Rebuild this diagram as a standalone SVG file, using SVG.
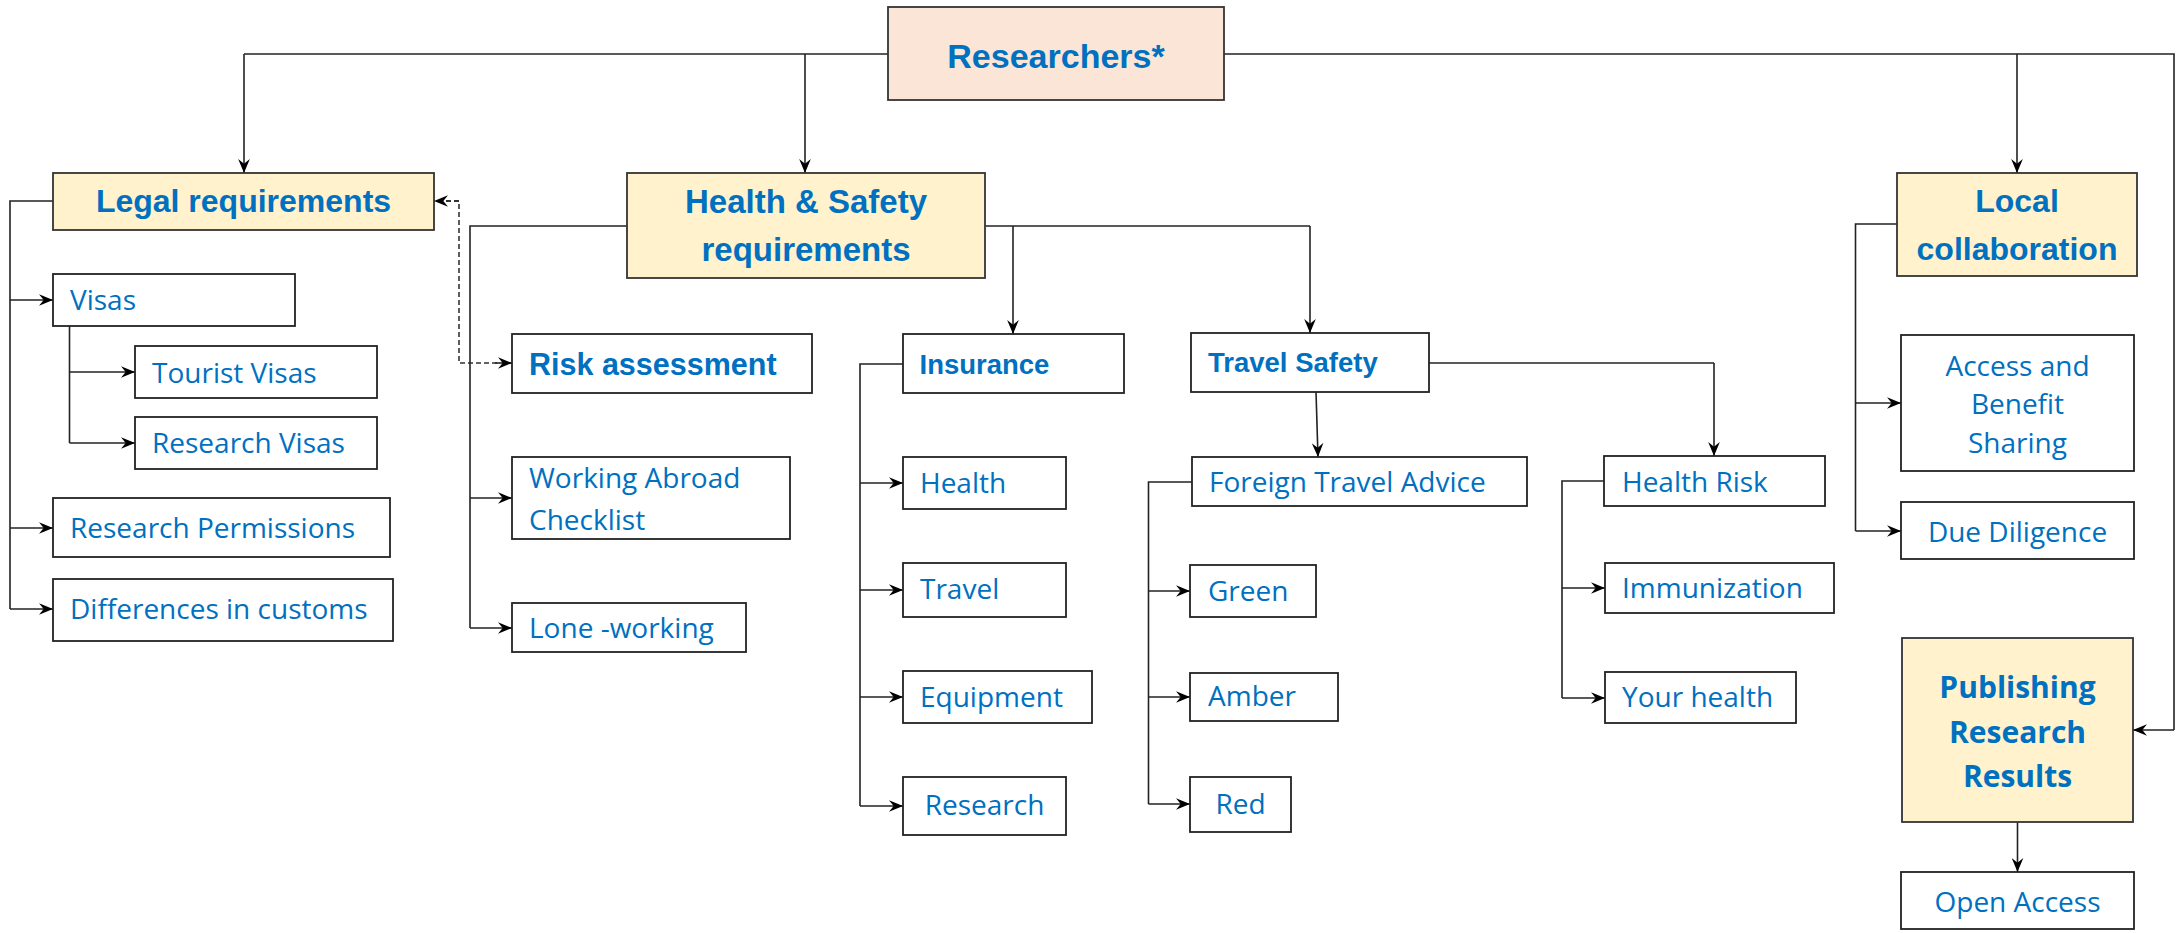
<svg xmlns="http://www.w3.org/2000/svg" width="2179" height="933" viewBox="0 0 2179 933">
<defs>
<marker id="arr" viewBox="0 0 12 10" refX="12" refY="5" markerWidth="14" markerHeight="12" markerUnits="userSpaceOnUse" orient="auto">
<path d="M0,0 L12,5 L0,10 L4,5 z" fill="#000"/>
</marker>
<style>
.box{fill:#fff;stroke:#222;stroke-width:1.8}
.hdr{fill:#FFF2CC;stroke:#333;stroke-width:1.8}
.root{fill:#FBE5D6;stroke:#333;stroke-width:1.8}
.c{fill:none;stroke:#222;stroke-width:1.6}
.ca{fill:none;stroke:#222;stroke-width:1.6;marker-end:url(#arr)}
.dash{fill:none;stroke:#333;stroke-width:1.6;stroke-dasharray:5 3}
.t{font-family:"Open Sans",sans-serif;font-size:28px;fill:#0070C0}
.b{font-family:"Liberation Sans",Arial,sans-serif;font-weight:bold;fill:#0070C0}
.ob{font-family:"Open Sans",sans-serif;font-weight:bold;font-size:30px;fill:#0070C0}
.m{text-anchor:middle}
</style>
</defs>
<rect width="2179" height="933" fill="#fff"/>
<g id="connectors">
<path class="c" d="M888,54 H244"/>
<path class="ca" d="M244,54 V173"/>
<path class="ca" d="M805,54 V173"/>
<path class="c" d="M1224,54 H2174 V730"/>
<path class="ca" d="M2174,730 H2133"/>
<path class="ca" d="M2017,54 V173"/>
<path class="c" d="M53,201 H10 V609"/>
<path class="ca" d="M10,300 H53"/>
<path class="ca" d="M10,528 H53"/>
<path class="ca" d="M10,609 H53"/>
<path class="c" d="M69.5,326 V443"/>
<path class="ca" d="M69.5,372 H135"/>
<path class="ca" d="M69.5,443 H135"/>
<path class="dash" d="M446,201 H459 V363 H500"/>
<path class="ca" d="M459,201 H434" stroke-dasharray="5 3"/>
<path class="ca" d="M495,363 H512"/>
<path class="c" d="M627,226 H470 V628"/>
<path class="ca" d="M470,498 H512"/>
<path class="ca" d="M470,628 H512"/>
<path class="c" d="M985,226 H1310"/>
<path class="ca" d="M1310,226 V333"/>
<path class="ca" d="M1013,226 V334"/>
<path class="c" d="M903,364 H860 V806"/>
<path class="ca" d="M860,483 H903"/>
<path class="ca" d="M860,590 H903"/>
<path class="ca" d="M860,697 H903"/>
<path class="ca" d="M860,806 H903"/>
<path class="ca" d="M1316,392 L1318,457"/>
<path class="c" d="M1429,363 H1714"/>
<path class="ca" d="M1714,363 V456"/>
<path class="c" d="M1192,482 H1148.5 V804"/>
<path class="ca" d="M1148.5,591 H1190"/>
<path class="ca" d="M1148.5,697 H1190"/>
<path class="ca" d="M1148.5,804 H1190"/>
<path class="c" d="M1604,481 H1562 V698"/>
<path class="ca" d="M1562,588 H1605"/>
<path class="ca" d="M1562,698 H1605"/>
<path class="c" d="M1897,224 H1855.5 V531"/>
<path class="ca" d="M1855.5,403 H1901"/>
<path class="ca" d="M1855.5,531 H1901"/>
<path class="ca" d="M2017.5,822 V872"/>
</g>
<g id="researchers"><rect class="root" x="888" y="7" width="336" height="93"/><text class="b m" x="1056" y="68" font-size="34">Researchers*</text></g>
<g id="legal"><rect class="hdr" x="53" y="173" width="381" height="57"/><text class="b m" x="243.5" y="212" font-size="32">Legal requirements</text></g>
<g id="visas"><rect class="box" x="53" y="274" width="242" height="52"/><text class="t" x="70" y="310">Visas</text></g>
<g id="tourist-visas"><rect class="box" x="135" y="346" width="242" height="52"/><text class="t" x="152" y="382.5">Tourist Visas</text></g>
<g id="research-visas"><rect class="box" x="135" y="417" width="242" height="52"/><text class="t" x="152" y="452.7">Research Visas</text></g>
<g id="research-permissions"><rect class="box" x="53" y="498" width="337" height="59"/><text class="t" x="70" y="537.7" font-size="27.5">Research Permissions</text></g>
<g id="differences"><rect class="box" x="53" y="579" width="340" height="62"/><text class="t" x="70" y="619" font-size="27.5">Differences in customs</text></g>
<g id="health-safety"><rect class="hdr" x="627" y="173" width="358" height="105"/><text class="b m" x="806" y="213" font-size="33">Health &amp; Safety</text><text class="b m" x="806" y="261" font-size="33">requirements</text></g>
<g id="risk-assessment"><rect class="box" x="512" y="334" width="300" height="59"/><text class="b" x="529" y="375" font-size="30.5">Risk assessment</text></g>
<g id="working-abroad"><rect class="box" x="512" y="457" width="278" height="82"/><text class="t" x="529" y="487.7">Working Abroad</text><text class="t" x="529" y="530">Checklist</text></g>
<g id="lone-working"><rect class="box" x="512" y="603" width="234" height="49"/><text class="t" x="529" y="638">Lone -working</text></g>
<g id="insurance"><rect class="box" x="903" y="334" width="221" height="59"/><text class="b" x="919.5" y="374" font-size="27.5">Insurance</text></g>
<g id="ins-health"><rect class="box" x="903" y="457" width="163" height="52"/><text class="t" x="920" y="493">Health</text></g>
<g id="ins-travel"><rect class="box" x="903" y="563" width="163" height="54"/><text class="t" x="920" y="599">Travel</text></g>
<g id="ins-equipment"><rect class="box" x="903" y="671" width="189" height="52"/><text class="t" x="920" y="706.7">Equipment</text></g>
<g id="ins-research"><rect class="box" x="903" y="777" width="163" height="58"/><text class="t m" x="984.5" y="815">Research</text></g>
<g id="travel-safety"><rect class="box" x="1191" y="333" width="238" height="59"/><text class="b" x="1208" y="372" font-size="27.5">Travel Safety</text></g>
<g id="foreign-travel-advice"><rect class="box" x="1192" y="457" width="335" height="49"/><text class="t" x="1209" y="491.7" font-size="27.5">Foreign Travel Advice</text></g>
<g id="green"><rect class="box" x="1190" y="565" width="126" height="52"/><text class="t" x="1208" y="601">Green</text></g>
<g id="amber"><rect class="box" x="1190" y="673" width="148" height="48"/><text class="t" x="1208" y="706">Amber</text></g>
<g id="red"><rect class="box" x="1190" y="777" width="101" height="55"/><text class="t m" x="1240.5" y="814">Red</text></g>
<g id="health-risk"><rect class="box" x="1604" y="456" width="221" height="50"/><text class="t" x="1622" y="491.7">Health Risk</text></g>
<g id="immunization"><rect class="box" x="1605" y="563" width="229" height="50"/><text class="t" x="1622" y="598.3">Immunization</text></g>
<g id="your-health"><rect class="box" x="1605" y="672" width="191" height="51"/><text class="t" x="1622" y="706.7">Your health</text></g>
<g id="local-collaboration"><rect class="hdr" x="1897" y="173" width="240" height="103"/><text class="b m" x="2017" y="212" font-size="32">Local</text><text class="b m" x="2017" y="260" font-size="32">collaboration</text></g>
<g id="access-benefit"><rect class="box" x="1901" y="335" width="233" height="136" stroke-width="2.2"/><text class="t m" x="2017.5" y="375.5">Access and</text><text class="t m" x="2017.5" y="414">Benefit</text><text class="t m" x="2017.5" y="452.5">Sharing</text></g>
<g id="due-diligence"><rect class="box" x="1901" y="502" width="233" height="57" stroke-width="2.2"/><text class="t m" x="2017.5" y="542">Due Diligence</text></g>
<g id="publishing"><rect class="hdr" x="1902" y="638" width="231" height="184"/><text class="ob m" x="2017.5" y="698">Publishing</text><text class="ob m" x="2017.5" y="743">Research</text><text class="ob m" x="2017.5" y="787">Results</text></g>
<g id="open-access"><rect class="box" x="1901" y="872" width="233" height="57" stroke-width="2.2"/><text class="t m" x="2017.5" y="911.5">Open Access</text></g>
</svg>
